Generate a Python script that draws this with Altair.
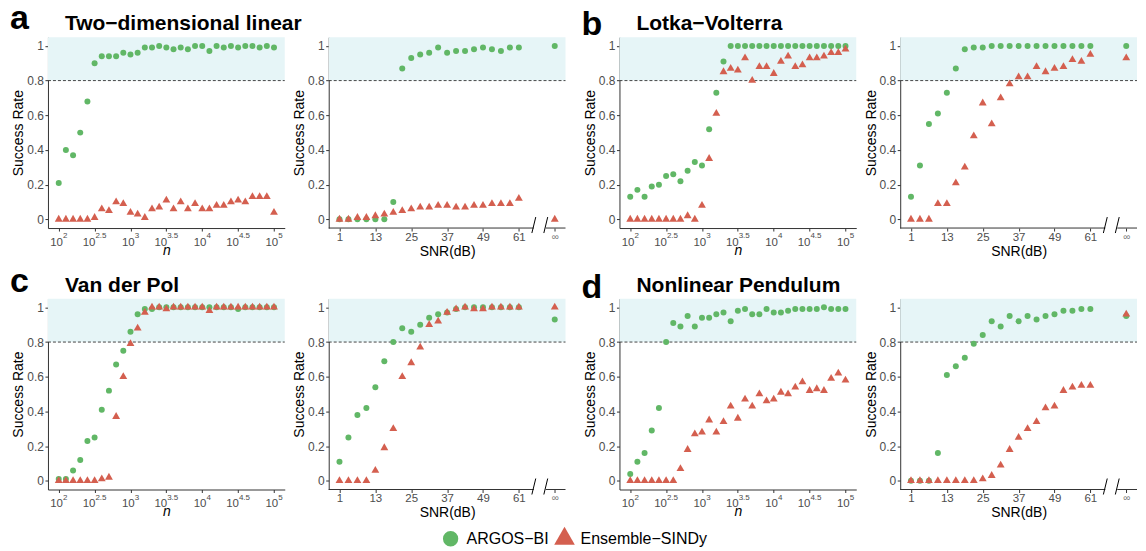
import altair as alt
import pandas as pd

# ---------------------------------------------------------------- styling
FONT = "Liberation Sans"
GREEN = "#61B766"
RED = "#D45F4F"
SHADE = "#E6F5F7"
INK = "#333333"
TICK_TEXT = "#4D4D4D"

METHODS = ["ARGOS−BI", "Ensemble−SINDy"]

# ---------------------------------------------------------------- x grids
log10_n = [2.0, 2.1, 2.2, 2.3, 2.4, 2.5, 2.6, 2.7, 2.8, 2.9, 3.0, 3.1, 3.2, 3.3, 3.4,
           3.5, 3.6, 3.7, 3.8, 3.9, 4.0, 4.1, 4.2, 4.3, 4.4, 4.5, 4.6, 4.7, 4.8, 4.9, 5.0]
snr_db = [1, 4, 7, 10, 13, 16, 19, 22, 25, 28, 31, 34, 37, 40, 43, 46, 49, 52, 55, 58, 61]

# the noise-free column sits to the right of an axis break
SNR_INF_AT = 73
BREAK_LO, BREAK_HI = 66, 70

n_tick_values = [2, 2.5, 3, 3.5, 4, 4.5, 5]
n_tick_exponents = ["2", "2.5", "3", "3.5", "4", "4.5", "5"]
snr_tick_values = [1, 13, 25, 37, 49, 61, SNR_INF_AT]

# ---------------------------------------------------------------- success rates
# (a) Two-dimensional linear
linear_n_argos = [0.21, 0.40, 0.37, 0.50, 0.68, 0.90, 0.94, 0.94, 0.94, 0.96, 0.95, 0.96, 0.99, 0.99, 1.00,
                  0.99, 0.98, 0.99, 0.98, 1.00, 1.00, 0.97, 1.00, 0.99, 1.00, 0.99, 1.00, 1.00, 0.99, 1.00, 0.99]
linear_n_ensemble = [0.00, 0.00, 0.00, 0.00, 0.00, 0.01, 0.06, 0.05, 0.10, 0.09, 0.04, 0.03, 0.01, 0.06, 0.07,
                     0.11, 0.06, 0.10, 0.06, 0.09, 0.06, 0.06, 0.08, 0.08, 0.10, 0.11, 0.10, 0.13, 0.13, 0.13, 0.04]
linear_snr_argos = [0.00, 0.00, 0.00, 0.00, 0.00, 0.00, 0.10, 0.87, 0.93, 0.95, 0.96, 0.99, 0.96, 0.97, 0.97,
                    0.98, 0.99, 0.98, 0.97, 0.99, 0.99]
linear_snr_ensemble = [0.00, 0.00, 0.01, 0.01, 0.02, 0.03, 0.04, 0.05, 0.06, 0.07, 0.07, 0.08, 0.08, 0.07, 0.07,
                       0.08, 0.08, 0.09, 0.09, 0.09, 0.12]
linear_inf = (1.00, 0.00)

# (b) Lotka-Volterra
lv_n_argos = [0.13, 0.17, 0.13, 0.19, 0.20, 0.25, 0.26, 0.22, 0.28, 0.33, 0.31, 0.52, 0.73, 0.91, 1.00,
              1.00, 1.00, 1.00, 1.00, 1.00, 1.00, 1.00, 1.00, 1.00, 1.00, 1.00, 1.00, 1.00, 1.00, 1.00, 1.00]
lv_n_ensemble = [0.00, 0.00, 0.00, 0.00, 0.00, 0.00, 0.00, 0.00, 0.02, 0.00, 0.08, 0.35, 0.61, 0.85, 0.87,
                 0.86, 0.93, 0.80, 0.88, 0.88, 0.84, 0.91, 0.94, 0.88, 0.89, 0.93, 0.93, 0.94, 0.96, 0.96, 0.98]
lv_snr_argos = [0.13, 0.31, 0.55, 0.61, 0.73, 0.87, 0.98, 0.99, 0.99, 1.00, 1.00, 1.00, 1.00, 1.00, 1.00,
                1.00, 1.00, 1.00, 1.00, 1.00, 1.00]
lv_snr_ensemble = [0.00, 0.00, 0.00, 0.09, 0.09, 0.21, 0.30, 0.48, 0.67, 0.55, 0.70, 0.78, 0.82, 0.82, 0.88,
                   0.85, 0.87, 0.88, 0.92, 0.91, 0.95]
lv_inf = (1.00, 0.93)

# (c) Van der Pol
vdp_n_argos = [0.01, 0.01, 0.06, 0.12, 0.23, 0.25, 0.41, 0.52, 0.67, 0.75, 0.86, 0.96, 0.99, 0.99, 1.00,
               1.00, 1.00, 1.00, 1.00, 1.00, 1.00, 1.00, 1.00, 1.00, 1.00, 0.99, 1.00, 1.00, 1.00, 1.00, 1.00]
vdp_n_ensemble = [0.00, 0.00, 0.00, 0.00, 0.00, 0.00, 0.01, 0.02, 0.37, 0.60, 0.79, 0.88, 0.97, 1.00, 1.00,
                  0.99, 1.00, 1.00, 1.00, 1.00, 1.00, 0.98, 1.00, 1.00, 1.00, 1.00, 1.00, 1.00, 1.00, 1.00, 1.00]
vdp_snr_argos = [0.11, 0.25, 0.38, 0.42, 0.54, 0.69, 0.80, 0.88, 0.86, 0.90, 0.94, 0.96, 0.97, 0.99, 1.00,
                 1.00, 1.00, 1.00, 1.00, 1.00, 1.00]
vdp_snr_ensemble = [0.00, 0.00, 0.00, 0.00, 0.06, 0.19, 0.30, 0.60, 0.68, 0.77, 0.90, 0.92, 0.97, 0.99, 1.00,
                    0.99, 0.99, 1.00, 1.00, 1.00, 1.00]
vdp_inf = (0.93, 1.00)

# (d) Nonlinear pendulum
pend_n_argos = [0.04, 0.11, 0.16, 0.29, 0.42, 0.80, 0.91, 0.89, 0.95, 0.89, 0.94, 0.94, 0.96, 0.97, 0.92,
                0.98, 0.99, 0.96, 0.96, 0.99, 0.97, 0.97, 0.98, 0.99, 0.99, 0.99, 0.99, 1.00, 0.99, 0.99, 0.99]
pend_n_ensemble = [0.00, 0.00, 0.00, 0.00, 0.00, 0.00, 0.00, 0.07, 0.18, 0.27, 0.28, 0.35, 0.28, 0.34, 0.43,
                   0.36, 0.47, 0.43, 0.50, 0.46, 0.47, 0.51, 0.50, 0.54, 0.57, 0.52, 0.53, 0.52, 0.59, 0.62, 0.58]
pend_snr_argos = [0.00, 0.00, 0.00, 0.16, 0.61, 0.66, 0.71, 0.79, 0.84, 0.92, 0.89, 0.95, 0.92, 0.95, 0.93,
                  0.95, 0.96, 0.98, 0.98, 0.99, 0.99]
pend_snr_ensemble = [0.00, 0.00, 0.00, 0.00, 0.00, 0.00, 0.00, 0.00, 0.01, 0.03, 0.09, 0.18, 0.25, 0.30, 0.34,
                     0.42, 0.43, 0.52, 0.54, 0.55, 0.55]
pend_inf = (0.95, 0.96)

# ---------------------------------------------------------------- scales / axes
W, H = 237, 191          # plot area of every panel
PAIR_GAP = 10            # extra room between the two systems of a row
N_DOMAIN = [1.85, 5.15]
SNR_DOMAIN = [-2.6, 76.6]
THRESHOLD, Y_TOP = 0.8, 1.05

Y_SCALE = alt.Scale(domain=[-0.05, Y_TOP], nice=False, zero=False)
Y_AXIS = alt.Axis(values=[0, 0.2, 0.4, 0.6, 0.8, 1], format="~g", title="Success Rate",
                  labelPadding=1.5, titlePadding=1, labelFontSize=12, tickCount=20)

N_SCALE = alt.Scale(domain=N_DOMAIN, nice=False, zero=False)
N_AXIS = alt.Axis(values=n_tick_values, labels=False, title="n", titleFontStyle="italic",
                  titlePadding=11.5, tickCount=20)

SNR_AXIS = alt.Axis(
    values=snr_tick_values, tickCount=20, domain=False, title="SNR(dB)", titlePadding=2,
    labelPadding=0, labelOverlap=False, labelBound=False,
    labelExpr=f"datum.value == {SNR_INF_AT} ? '∞' : datum.label",
    labelFontSize={"condition": {"test": f"datum.value == {SNR_INF_AT}", "value": 10}, "value": 11.5},
    labelColor={"condition": {"test": f"datum.value == {SNR_INF_AT}", "value": "#808080"},
                "value": TICK_TEXT},
)

TRIANGLE = "M0,-1.555L1.347,0.778L-1.347,0.778Z"
COLOR_SCALE = alt.Scale(domain=METHODS, range=[GREEN, RED])
SHAPE_SCALE = alt.Scale(domain=METHODS, range=["circle", TRIANGLE])
LEGEND = alt.Legend(title=None, orient="none", legendX=395, legendY=494, direction="horizontal",
                    symbolSize=235, symbolStrokeWidth=0, labelFontSize=16, labelFont=FONT,
                    labelColor="black", labelOffset=8, columnPadding=4, padding=0)

band_df = pd.DataFrame({"lo": [THRESHOLD], "hi": [Y_TOP]})
tick_df = pd.DataFrame({"x": n_tick_values, "exp": n_tick_exponents})


def y_enc(field):
    return alt.Y(f"{field}:Q", scale=Y_SCALE, axis=Y_AXIS)


def rate_frame(xs, argos, ensemble):
    return pd.DataFrame({
        "x": list(xs) * 2,
        "rate": list(argos) + list(ensemble),
        "method": [METHODS[0]] * len(xs) + [METHODS[1]] * len(xs),
    })


def backdrop():
    band = alt.Chart(band_df)
    shade = band.mark_rect(color=SHADE).encode(
        x=alt.value(0), x2=alt.value(W), y=y_enc("lo"), y2=alt.Y2("hi:Q"))
    line = band.mark_rule(color=INK, strokeDash=[3, 2], strokeWidth=0.9).encode(
        x=alt.value(0), x2=alt.value(W), y=y_enc("lo"))
    return [shade, line]


def markers(df, x_enc):
    layers = []
    for method, size in zip(METHODS, (36, 34)):
        layers.append(
            alt.Chart(df).transform_filter(alt.datum.method == method)
            .mark_point(filled=True, size=size, opacity=1, strokeWidth=0)
            .encode(
                x=x_enc, y=y_enc("rate"),
                color=alt.Color("method:N", scale=COLOR_SCALE, legend=LEGEND),
                shape=alt.Shape("method:N", scale=SHAPE_SCALE, legend=LEGEND),
            )
        )
    return layers


def heading(letter, title, letter_y, title_y):
    one = alt.Chart(pd.DataFrame({"letter": [letter], "title": [title]}))
    tag = one.mark_text(align="left", baseline="alphabetic", fontSize=34, fontWeight="bold",
                        font=FONT, color="black").encode(
        text="letter:N", x=alt.value(-38), y=alt.value(letter_y))
    name = one.mark_text(align="left", baseline="alphabetic", fontSize=21, fontWeight="bold",
                         font=FONT, color="black").encode(
        text="title:N", x=alt.value(17), y=alt.value(title_y))
    return [tag, name]


def n_panel(argos, ensemble, letter, title, letter_y, title_y):
    x_enc = alt.X("x:Q", scale=N_SCALE, axis=N_AXIS)
    df = rate_frame(log10_n, argos, ensemble)
    ticks = alt.Chart(tick_df)
    labels = []
    # "10" with a raised exponent, the pair centred on its tick
    for test, dx in (("length(datum.exp) == 1", 4.2), ("length(datum.exp) > 1", 0.8)):
        sub = ticks.transform_filter(test)
        labels.append(sub.mark_text(text="10", align="right", baseline="alphabetic", dx=dx,
                                    fontSize=11.5, font=FONT, color=TICK_TEXT)
                      .encode(x=x_enc, y=alt.value(H + 18)))
        labels.append(sub.mark_text(align="left", baseline="alphabetic", dx=dx, fontSize=8,
                                    font=FONT, color=TICK_TEXT)
                      .encode(x=x_enc, y=alt.value(H + 10), text="exp:N"))
    return alt.layer(*backdrop(), *markers(df, x_enc), *labels,
                     *heading(letter, title, letter_y, title_y)).properties(width=W, height=H)


def snr_panel(argos, ensemble, inf_pair, trailing=0):
    # the plot keeps W pixels of scale range; any trailing room stays empty
    scale = alt.Scale(domain=SNR_DOMAIN, nice=False, zero=False, range=[0, W])
    x_enc = alt.X("x:Q", scale=scale, axis=SNR_AXIS)
    df = rate_frame(snr_db + [SNR_INF_AT], argos + [inf_pair[0]], ensemble + [inf_pair[1]])
    one = alt.Chart(pd.DataFrame({"k": [0]}))
    axis_line = [
        one.mark_rule(color=INK, strokeWidth=1).encode(
            x=alt.XDatum(lo, type="quantitative"), x2=alt.X2Datum(hi), y=alt.value(H))
        for lo, hi in ((SNR_DOMAIN[0], BREAK_LO), (BREAK_HI, SNR_DOMAIN[1]))
    ]
    slashes = [
        one.mark_rule(color="black", strokeWidth=1).encode(
            x=alt.XDatum(c - 0.65, type="quantitative"), x2=alt.X2Datum(c + 0.65),
            y=alt.value(H + 5), y2=alt.value(H - 11))
        for c in (BREAK_LO, BREAK_HI)
    ]
    return alt.layer(*backdrop(), *markers(df, x_enc), *axis_line, *slashes).properties(
        width=W + trailing, height=H)


panels = [
    n_panel(linear_n_argos, linear_n_ensemble, "a", "Two−dimensional linear", -8, -7),
    snr_panel(linear_snr_argos, linear_snr_ensemble, linear_inf, trailing=PAIR_GAP),
    n_panel(lv_n_argos, lv_n_ensemble, "b", "Lotka−Volterra", -2.5, -7),
    snr_panel(lv_snr_argos, lv_snr_ensemble, lv_inf),
    n_panel(vdp_n_argos, vdp_n_ensemble, "c", "Van der Pol", -7, -7),
    snr_panel(vdp_snr_argos, vdp_snr_ensemble, vdp_inf, trailing=PAIR_GAP),
    n_panel(pend_n_argos, pend_n_ensemble, "d", "Nonlinear Pendulum", -1, -7),
    snr_panel(pend_snr_argos, pend_snr_ensemble, pend_inf),
]

chart = (
    alt.concat(*panels, columns=4, spacing={"row": 70.7, "column": 44}, bounds="flush",
               align="each")
    .properties(padding={"left": 10, "top": 2, "right": 8, "bottom": 2})
    .configure_view(stroke=None)
    .configure_axis(
        labelFont=FONT, titleFont=FONT, labelColor=TICK_TEXT, titleColor="black",
        titleFontWeight="normal", titleFontSize=14, domainColor=INK, tickColor=INK,
        tickSize=3, grid=False, zindex=1, domainWidth=1, tickWidth=1,
    )
)

chart.save("out.html", embed_options={"renderer": "svg", "actions": False})
